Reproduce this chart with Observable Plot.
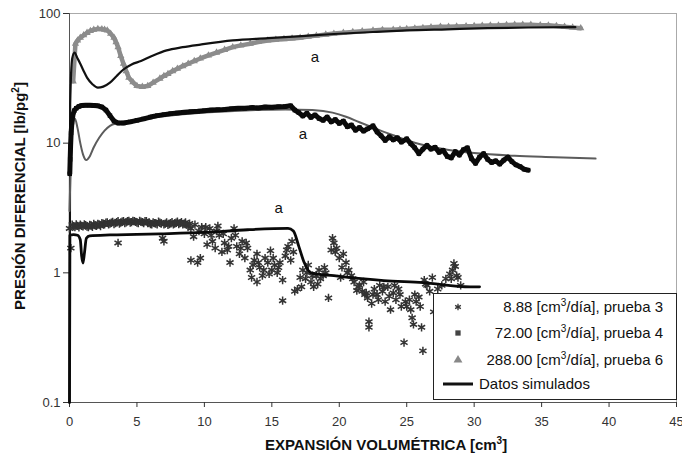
<!DOCTYPE html>
<html><head><meta charset="utf-8">
<script src="https://cdn.jsdelivr.net/npm/d3@7"></script>
<script src="https://cdn.jsdelivr.net/npm/@observablehq/plot@0.6"></script>
<style>body{margin:0;background:#fff;font-family:"Liberation Sans",Arial,sans-serif}</style>
</head><body><div id="chart"></div>
<script>
// ---- tick labels ----
const xTicks = [0, 5, 10, 15, 20, 25, 30, 35, 40, 45];
const yTicks = [0.1, 1, 10, 100];

// ---- measured: 8.88 cm3/dia, prueba 3 ----
const exp888X = [0.0,0.1,0.2,0.4,0.6,0.8,1.0,1.2,1.4,1.6,1.8,2.0,2.2,2.4,2.6,2.8,3.0,3.2,3.4,3.6,3.6,3.8,4.0,4.2,4.4,4.6,4.8,5.0,5.2,5.4,5.6,5.8,6.0,6.2,6.4,6.6,6.8,6.9,7.0,7.0,7.2,7.4,7.6,7.8,8.0,8.2,8.4,8.6,8.8,9.0,9.0,9.2,9.3,9.5,9.6,9.7,9.8,10.0,10.2,10.4,10.6,10.8,11.0,11.1,11.3,11.5,11.7,11.9,12.0,12.2,12.4,12.6,12.8,13.0,13.2,13.4,13.5,13.7,13.9,13.9,14.1,14.3,14.5,14.7,14.9,15.0,15.2,15.4,15.6,15.8,15.8,16.0,16.2,16.4,16.6,16.7,16.9,17.1,17.3,17.5,17.7,17.9,18.1,18.3,18.5,18.6,18.8,19.0,19.2,19.4,19.6,19.8,20.0,20.1,20.3,20.5,20.7,20.9,21.1,21.3,21.5,21.7,21.9,22.1,22.2,22.2,22.4,22.6,22.8,23.0,23.2,23.4,23.6,23.8,24.0,24.2,24.4,24.6,24.8,25.0,25.2,25.4,25.5,25.7,25.9,26.1,26.2,26.3,26.5,26.7,27.0,27.3,27.6,27.9,28.2,28.4,28.6,28.8,29.0,
  0.3,0.5,0.7,0.9,1.1,1.3,1.5,1.7,1.9,2.1,2.3,2.5,2.7,2.9,3.1,3.3,3.5,3.7,3.9,4.1,4.3,4.5,4.7,4.9,5.1,5.3,5.5,5.7,5.9,6.1,6.3,6.5,6.7,7.1,7.3,7.5,7.7,7.9,8.1,8.3,8.5,8.7,8.9,
  10.1,10.5,10.9,11.4,11.8,12.3,12.7,13.1,13.6,14.0,14.4,14.8,15.1,15.5,16.1,16.5,17.2,17.6,18.0,18.4,18.9,19.5,19.7,20.2,20.6,21.0,21.4,21.8,22.0,22.5,22.9,23.3,23.7,24.1,24.5,24.9,25.3,25.6,26.0,26.4,26.9,27.5,28.3,28.7,28.5];
const exp888Y = [2.2,1.55,2.35,2.25,2.3,2.35,2.28,2.33,2.25,2.32,2.38,2.3,2.35,2.42,2.36,2.45,2.4,2.47,2.42,2.5,1.7,2.44,2.5,2.45,2.52,2.46,2.5,2.44,2.52,2.46,2.5,2.42,2.38,2.45,2.4,2.48,2.4,1.85,1.75,2.36,2.45,2.38,2.46,2.4,2.48,2.42,2.36,2.45,2.3,2.2,1.25,1.9,2.35,1.2,2.1,1.3,2.25,2.0,1.65,2.2,1.75,1.55,2.3,1.95,1.45,1.7,1.5,1.2,1.85,2.2,1.6,1.4,1.75,1.3,1.55,1.05,0.92,1.25,1.4,0.85,1.1,0.95,1.3,1.2,1.48,1.05,1.15,1.0,1.2,0.88,0.61,1.35,1.6,1.25,1.45,0.72,0.75,0.92,1.05,0.9,1.15,0.85,0.78,0.95,1.05,0.9,0.95,1.0,0.64,1.5,1.7,1.55,1.3,0.92,1.4,1.2,1.05,0.95,0.85,0.73,0.8,0.72,0.68,0.64,0.38,0.42,0.58,0.75,0.68,0.8,0.72,0.6,0.78,0.52,0.7,0.62,0.75,0.55,0.29,0.55,0.62,0.45,0.4,0.6,0.65,0.38,0.25,0.88,0.8,0.72,0.5,0.75,0.8,0.9,0.98,1.05,1.12,0.92,0.8,
  2.28,2.36,2.24,2.3,2.36,2.27,2.34,2.26,2.33,2.38,2.29,2.4,2.44,2.36,2.44,2.38,2.46,2.4,2.48,2.42,2.5,2.44,2.52,2.47,2.42,2.48,2.42,2.5,2.45,2.36,2.42,2.36,2.44,2.4,2.34,2.42,2.36,2.44,2.38,2.46,2.4,2.34,2.4,
  2.25,1.95,2.1,2.0,1.6,1.95,1.55,1.7,1.15,1.2,1.05,0.98,1.3,1.1,1.5,1.75,0.78,1.0,0.95,0.82,1.1,1.85,1.45,1.1,1.0,0.9,0.78,0.85,0.7,0.68,0.62,0.78,0.66,0.8,0.68,0.6,0.52,0.68,0.55,0.82,0.92,0.65,0.9,0.95,1.18];

// ---- measured: 72.00 cm3/dia, prueba 4 ----
const exp72X = [0.02,0.05,0.08,0.12,0.18,0.25,0.35,0.5,0.7,0.9,1.2,1.5,1.8,2.1,2.4,2.7,3.0,3.3,3.6,4.0,4.5,5.0,5.5,6.0,6.5,7.0,7.5,8.0,8.5,9.0,9.5,10,10.5,11,11.5,12,12.5,13,13.5,14,14.5,15,15.5,16,16.4,16.7,17.0,17.3,17.6,17.9,18.2,18.5,18.8,19.1,19.4,19.7,20.0,20.3,20.6,20.9,21.2,21.5,21.8,22.1,22.5,22.8,23.1,23.4,23.7,24.0,24.3,24.6,25.0,25.3,25.6,25.9,26.2,26.5,26.8,27.1,27.4,27.7,28.0,28.3,28.6,28.9,29.2,29.5,29.8,30.1,30.4,30.7,31.0,31.3,31.6,31.9,32.2,32.5,32.8,33.1,33.4,33.7,34.0];
const exp72Y = [5.8,7.5,9.5,12,14.5,16.5,17.8,18.6,19.2,19.5,19.6,19.6,19.5,19.4,19.0,18.0,16.3,14.8,14.3,14.3,14.6,15.0,15.4,15.9,16.3,16.6,16.9,17.1,17.3,17.5,17.6,17.8,18.0,18.1,18.2,18.4,18.6,18.6,18.8,18.7,19.0,18.9,19.1,19.2,19.4,18.0,17.2,16.2,17.0,15.8,16.5,15.5,15.0,15.9,14.6,15.2,14.2,14.8,13.4,13.8,12.6,13.2,12.4,12.9,13.6,12.2,11.4,10.5,11.2,10.6,11.0,10.2,10.8,9.9,9.2,8.3,9.0,9.6,9.0,9.3,8.5,8.8,7.9,7.7,8.6,8.1,8.9,9.2,7.6,7.0,7.8,8.3,7.5,7.1,7.3,6.9,7.4,7.8,7.2,6.8,6.6,6.3,6.2];

// ---- measured: 288.00 cm3/dia, prueba 6 ----
const exp288X = [0.27,0.44,0.6,0.8,1.05,1.3,1.55,1.8,2.1,2.4,2.6,2.8,3.05,3.3,3.45,3.6,3.8,4.0,4.2,4.4,4.7,5.0,5.4,5.8,6.2,6.7,7.0,7.3,7.65,8.0,8.4,8.8,9.25,9.7,10.3,10.9,11.5,12.1,12.7,13.4,14.0,14.7,15.3,15.9,16.5,17.1,17.7,18.3,19.0,19.6,20.3,21,21.7,22.5,23.2,24,24.5,25,25.6,26.2,26.8,27.5,28.1,28.7,29.4,30,30.6,31.2,31.8,32.4,33,33.6,34.2,34.9,35.5,36.1,36.7,37.3,37.9];
const exp288Y = [30,58.5,62,65,68,71,73.5,75,76,75.8,75,74,70,65,60,55,47,41,36,32,29.5,27.6,27.2,27.6,29.3,31.5,33,34.2,36,37.5,39.3,41,43,45,47.5,50,52.5,55,56.8,58.5,60.3,62,62.8,63.5,64.2,65,66.3,67.5,68.8,70,71,72,73,74,74.8,75,75.5,76,76.8,77.5,78.3,79,79.2,79.5,79.8,80,80.5,80.8,81,81.5,81.8,82,81.8,81.3,81,80.2,79,78,77];

// ---- simulated ----
const sim888X = [0,0.03,0.3,0.6,0.8,0.9,1.0,1.1,1.25,1.5,3,5,6.7,10,13.2,16.2,16.6,17.0,17.4,17.9,19.6,23.3,26.2,29.7,30.4];
const sim888Y = [0.1,1.95,1.97,1.95,1.8,1.35,1.19,1.4,1.85,1.93,1.96,1.98,2.0,2.05,2.15,2.2,2.1,1.6,1.2,1.0,0.95,0.87,0.84,0.78,0.78];
const sim72X = [0.0,0.2,0.4,0.6,0.8,1.0,1.25,1.5,1.8,2.2,2.6,3.0,3.4,4,5,7,10,13,16,18,19.5,20.5,21.5,22.5,24,26,28,30,33,36,39];
const sim72Y = [3,12,15.5,13,10,8.2,7.4,7.9,9.3,11.0,12.5,13.6,14.1,14.3,14.9,16.1,17.2,17.9,18.2,18.0,17.2,16.0,14.5,13.2,11.5,9.8,8.9,8.4,8.0,7.8,7.6];
const sim288X = [0,0.05,0.2,0.37,0.6,0.8,1.05,1.3,1.7,2.1,2.5,3.0,3.5,4.0,4.6,5.3,6.2,7.2,8.4,9.7,12.1,14.7,17.2,19.6,22.5,25,28,31,34,37.5];
const sim288Y = [0.1,20,45,50,45,41,36,32,28.5,26.8,27.3,29.3,33,37,40.5,43,47.5,52,55,57.6,62,64.5,67,69.5,72,74,75.5,77,78,78.5];

// ---- annotations ----
const annX = [18.2, 17.3, 15.5];
const annY = [46, 11.8, 3.15];
const annText = ["a", "a", "a"];

// ---- legend labels ----
const legendLabels = ["8.88 [cm", "72.00 [cm", "288.00 [cm"];
const legendTails = ["/día], prueba 3", "/día], prueba 4", "/día], prueba 6"];
const legendSim = "Datos simulados";

const rows = (xs, ys) => xs.map((x, i) => ({x, y: ys[i]}));
const d888 = rows(exp888X, exp888Y), d72 = rows(exp72X, exp72Y), d288 = rows(exp288X, exp288Y);
const s888 = rows(sim888X, sim888Y), s72 = rows(sim72X, sim72Y), s288 = rows(sim288X, sim288Y);
const ann = annX.map((x, i) => ({x, y: annY[i], t: annText[i]}));

const W = 682, H = 457;
const plot = Plot.plot({
  width: W, height: H,
  marginLeft: 69, marginRight: 6, marginTop: 13, marginBottom: 55,
  style: {fontFamily: '"Liberation Sans", Arial, sans-serif', background: "#fff"},
  x: {domain: [0, 45], ticks: xTicks},
  y: {type: "log", domain: [0.1, 100], ticks: yTicks},
  marks: [
    Plot.frame({stroke: "#aaa"}),
    Plot.ruleX([0], {stroke: "#555"}),
    Plot.ruleY([0.1], {stroke: "#555"}),
    Plot.axisX({ticks: xTicks, tickSize: 5, tickPadding: 9, fontSize: 13, color: "#333", label: null, tickFormat: d => String(d)}),
    Plot.axisY({ticks: yTicks, tickSize: 6, tickPadding: 3, fontSize: 13, color: "#333", label: null, tickFormat: d => String(d)}),
    // 288 measured (gray triangles)
    Plot.line(d288, {x: "x", y: "y", stroke: "#8c8c8c", strokeWidth: 4.5, strokeLinejoin: "round"}),
    Plot.dot(d288, {x: "x", y: "y", symbol: "triangle", r: 2.7, fill: "#8c8c8c"}),
    Plot.line(s288, {x: "x", y: "y", stroke: "#111", strokeWidth: 2.2, curve: "monotone-x"}),
    // 72
    Plot.line(s72, {x: "x", y: "y", stroke: "#5c5c5c", strokeWidth: 2, curve: "monotone-x"}),
    Plot.line(d72, {x: "x", y: "y", stroke: "#0a0a0a", strokeWidth: 5, strokeLinejoin: "round"}),
    Plot.dot(d72, {x: "x", y: "y", symbol: "square", r: 2.5, fill: "#0a0a0a"}),
    // 8.88
    Plot.dot(d888, {x: "x", y: "y", symbol: "asterisk", r: 3.9, stroke: "#333", strokeWidth: 1.5}),
    Plot.line(s888, {x: "x", y: "y", stroke: "#0a0a0a", strokeWidth: 2.8, curve: "monotone-x"}),
    Plot.text(ann, {x: "x", y: "y", text: "t", fontSize: 15, fill: "#111"})
  ]
});
document.getElementById("chart").appendChild(plot);

const svg = d3.select(plot);
const font = '"Liberation Sans", Arial, sans-serif';
// axis titles
const xt = svg.append("text").attr("x", 386).attr("y", 450).attr("text-anchor", "middle")
  .attr("font-family", font).attr("font-weight", "bold").attr("font-size", 15).attr("fill", "#111");
xt.append("tspan").text("EXPANSIÓN VOLUMÉTRICA [cm");
xt.append("tspan").attr("font-size", 10).attr("dy", -6).text("3");
xt.append("tspan").attr("dy", 6).text("]");
const yt = svg.append("text").attr("transform", "translate(25,196) rotate(-90)").attr("text-anchor", "middle")
  .attr("font-family", font).attr("font-weight", "bold").attr("font-size", 15).attr("fill", "#111");
yt.append("tspan").text("PRESIÓN DIFERENCIAL [lb/pg");
yt.append("tspan").attr("font-size", 10).attr("dy", -6).text("2");
yt.append("tspan").attr("dy", 6).text("]");

// legend
const lg = svg.append("g");
lg.append("rect").attr("x", 433.5).attr("y", 293.5).attr("width", 243).attr("height", 106)
  .attr("fill", "#fff").attr("stroke", "#222").attr("stroke-width", 1);
const rowY = [307, 333, 360];
const syms = [d3.symbolAsterisk, d3.symbolSquare, d3.symbolTriangle];
const symFill = ["none", "#444", "#888"];
const symStroke = ["#333", "none", "none"];
const symSize = [30, 28, 34];
rowY.forEach((y, i) => {
  lg.append("path").attr("d", d3.symbol(syms[i], symSize[i])()).attr("transform", `translate(458,${y})`)
    .attr("fill", symFill[i]).attr("stroke", symStroke[i]).attr("stroke-width", 1.3);
  const t = lg.append("text").attr("x", 663).attr("y", y + 5).attr("text-anchor", "end")
    .attr("font-family", font).attr("font-size", 15).attr("fill", "#111");
  t.append("tspan").text(legendLabels[i]);
  t.append("tspan").attr("font-size", 10).attr("dy", -6).text("3");
  t.append("tspan").attr("dy", 6).text(legendTails[i]);
});
lg.append("line").attr("x1", 443).attr("x2", 473).attr("y1", 384).attr("y2", 384).attr("stroke", "#111").attr("stroke-width", 3);
lg.append("text").attr("x", 479).attr("y", 389).attr("text-anchor", "start").attr("font-family", font).attr("font-size", 15).attr("fill", "#111").text(legendSim);
</script>
</body></html>
